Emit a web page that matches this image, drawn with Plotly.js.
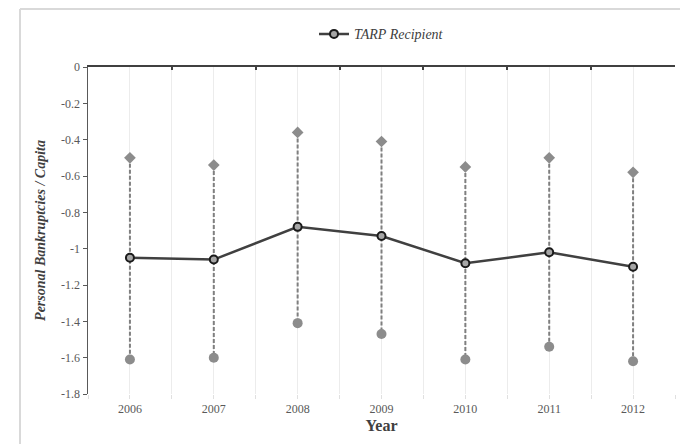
<!DOCTYPE html>
<html>
<head>
<meta charset="utf-8">
<script src="https://cdn.plot.ly/plotly-3.0.1.min.js"></script>
<style>html,body{margin:0;padding:0;background:#fff;}#chart{width:680px;height:444px;}</style>
</head>
<body>
<div id="chart"></div>
<script>
const years = [2006, 2007, 2008, 2009, 2010, 2011, 2012];
const meanVals = [-1.05, -1.06, -0.88, -0.93, -1.08, -1.02, -1.10];
const upperVals = [-0.50, -0.54, -0.36, -0.41, -0.55, -0.50, -0.58];
const lowerVals = [-1.61, -1.60, -1.41, -1.47, -1.61, -1.54, -1.62];
const yTickVals = [0, -0.2, -0.4, -0.6, -0.8, -1, -1.2, -1.4, -1.6, -1.8];
const yTickText = ['0', '-0.2', '-0.4', '-0.6', '-0.8', '-1', '-1.2', '-1.4', '-1.6', '-1.8'];
const boundaries = [2005.5, 2006.5, 2007.5, 2008.5, 2009.5, 2010.5, 2011.5, 2012.5];

const segX = [], segY = [];
years.forEach((yr, i) => { segX.push(yr, yr, null); segY.push(upperVals[i], lowerVals[i], null); });

const serif = '"Liberation Serif", serif';

const traces = [
  { x: segX, y: segY, mode: 'lines', type: 'scatter', showlegend: false, hoverinfo: 'skip',
    line: { color: '#7f7f7f', width: 2, dash: '4px,2px' } },
  { x: years, y: upperVals, mode: 'markers', type: 'scatter', showlegend: false,
    marker: { symbol: 'diamond', size: 9, color: '#8c8c8c' } },
  { x: years, y: lowerVals, mode: 'markers', type: 'scatter', showlegend: false,
    marker: { symbol: 'circle', size: 10, color: '#8c8c8c' } },
  { x: years, y: meanVals, mode: 'lines+markers', type: 'scatter', name: 'TARP Recipient',
    line: { color: '#404040', width: 2.5 },
    marker: { symbol: 'circle', size: 8, color: '#a6a6a6', line: { color: '#1a1a1a', width: 2 } } },
  { x: boundaries, y: boundaries.map(() => 0), xaxis: 'x2', mode: 'none', type: 'scatter', showlegend: false, hoverinfo: 'skip' }
];

const layout = {
  width: 680, height: 444,
  margin: { l: 88, r: 5, t: 67, b: 50 },
  paper_bgcolor: '#ffffff', plot_bgcolor: '#ffffff',
  font: { family: serif, color: '#595959', size: 11 },
  showlegend: true,
  legend: { orientation: 'h', x: 0.5, xanchor: 'center', y: 1.1, yanchor: 'middle',
    font: { family: serif, size: 14, color: '#404040', style: 'italic' } },
  xaxis: {
    range: [2005.5, 2012.5], tickvals: years, ticktext: years.map(String),
    showline: false, showgrid: true, gridcolor: '#ececec', gridwidth: 1,
    ticks: 'outside', ticklen: 4, tickcolor: '#e0e0e0',
    zeroline: false,
    minor: { tickvals: boundaries, showgrid: true, gridcolor: '#ececec', gridwidth: 1, ticks: 'outside', ticklen: 4, tickcolor: '#e0e0e0' },
    tickfont: { family: serif, size: 12, color: '#595959' },
    title: { text: 'Year', font: { family: serif, size: 16, color: '#404040', weight: 'bold' }, standoff: 4 }
  },
  xaxis2: {
    overlaying: 'x', side: 'top', anchor: 'y', matches: 'x',
    range: [2005.5, 2012.5], tickvals: boundaries, showticklabels: false,
    showline: true, linecolor: '#404040', linewidth: 2,
    ticks: 'inside', ticklen: 3, tickcolor: '#404040', tickwidth: 2,
    showgrid: false, zeroline: false
  },
  yaxis: {
    range: [-1.8, 0], tickvals: yTickVals, ticktext: yTickText,
    showline: true, linecolor: '#595959', linewidth: 1.5,
    ticks: 'outside', ticklen: 4, tickcolor: '#595959',
    showgrid: false, zeroline: false,
    tickfont: { family: serif, size: 12, color: '#595959' },
    title: { text: 'Personal Bankruptcies / Capita', standoff: 12,
      font: { family: serif, size: 14, color: '#404040', weight: 'bold', style: 'italic' } }
  },
  shapes: [
    { type: 'line', xref: 'paper', yref: 'paper', x0: (20 - 88) / 587, x1: (700 - 88) / 587,
      y0: (394 - 9) / 327, y1: (394 - 9) / 327, line: { color: '#d9d9d9', width: 2 }, layer: 'below' },
    { type: 'line', xref: 'paper', yref: 'paper', x0: (20 - 88) / 587, x1: (20 - 88) / 587,
      y0: (394 - 460) / 327, y1: (394 - 9) / 327, line: { color: '#d9d9d9', width: 2 }, layer: 'below' }
  ]
};

Plotly.newPlot('chart', traces, layout, { displayModeBar: false, staticPlot: true });
</script>
</body>
</html>
